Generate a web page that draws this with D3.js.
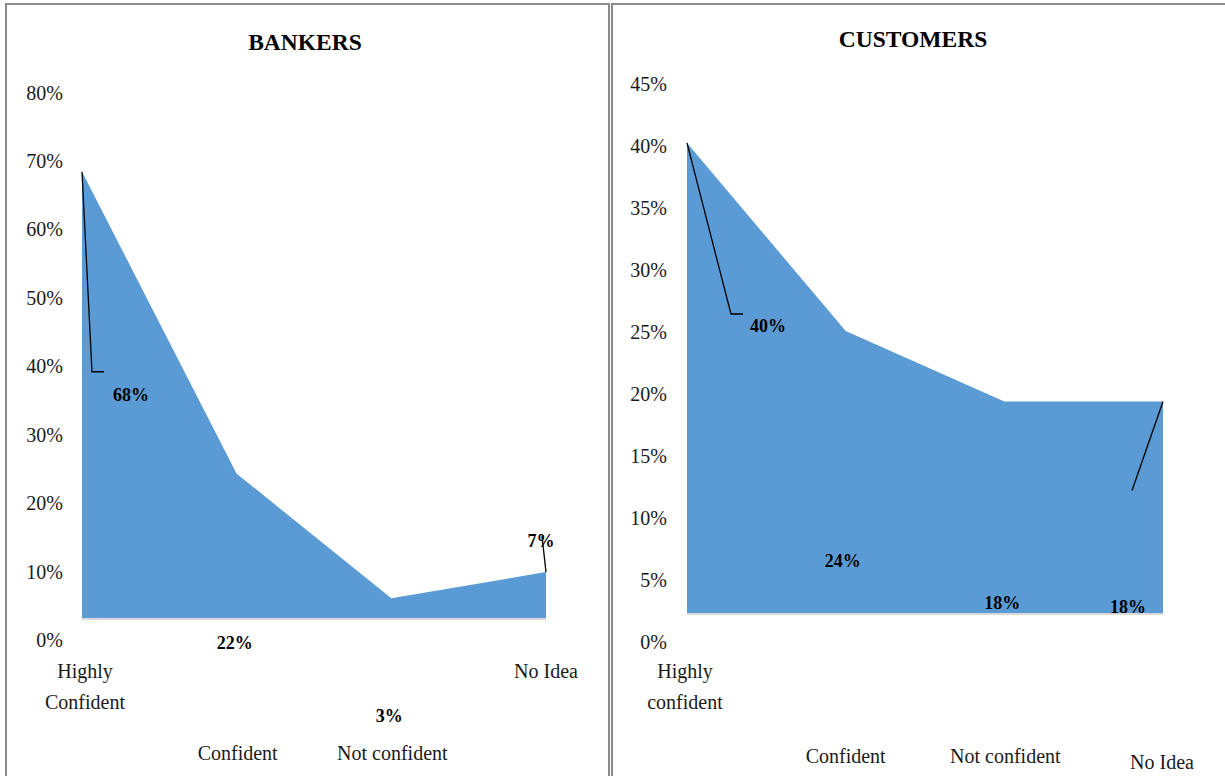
<!DOCTYPE html>
<html>
<head>
<meta charset="utf-8">
<script src="https://cdn.jsdelivr.net/npm/d3@7/dist/d3.min.js"></script>
<style>
  html, body { margin: 0; padding: 0; background: #fff; }
  svg { display: block; font-family: "Liberation Serif", "DejaVu Serif", serif; }
</style>
</head>
<body>
<svg id="chart" width="1225" height="776"></svg>
<script>
// Survey results: confidence level, bankers vs customers (share of respondents, %)
const bankerCategories = ["Highly Confident", "Confident", "Not confident", "No Idea"];
const bankerValues = [68, 22, 3, 7];
const bankerTicks = [0, 10, 20, 30, 40, 50, 60, 70, 80];
const bankerLabelLines = [["Highly", "Confident"], ["Confident"], ["Not confident"], ["No Idea"]];

const customerCategories = ["Highly confident", "Confident", "Not confident", "No Idea"];
const customerValues = [40, 24, 18, 18];
const customerTicks = [0, 5, 10, 15, 20, 25, 30, 35, 40, 45];
const customerLabelLines = [["Highly", "confident"], ["Confident"], ["Not confident"], ["No Idea"]];

const svg = d3.select("#chart");
const FILL = "#5B9BD5";

// Panel frames
svg.append("rect").attr("x", 6).attr("y", 4).attr("width", 603).attr("height", 800)
  .attr("fill", "none").attr("stroke", "#8a8a8a").attr("stroke-width", 2);
svg.append("rect").attr("x", 612).attr("y", 4).attr("width", 640).attr("height", 800)
  .attr("fill", "none").attr("stroke", "#8a8a8a").attr("stroke-width", 2);

function drawPanel(cfg) {
  const g = svg.append("g");
  const x = d3.scalePoint().domain(cfg.categories).range(cfg.xRange);
  const y = d3.scaleLinear().domain(cfg.yDomain).range(cfg.yRange);
  const yText = d3.scaleLinear().domain(cfg.yDomain).range(cfg.tickRange);
  const data = cfg.categories.map((c, i) => ({ c, v: cfg.values[i], i }));

  // Title
  g.append("text").attr("x", cfg.titleX).attr("y", cfg.titleY)
    .attr("text-anchor", "middle").attr("font-weight", "bold")
    .attr("font-size", "23.5px").attr("fill", "#000").text(cfg.title);

  // Value axis labels
  const ax = g.append("g").attr("transform", `translate(${cfg.axisX},0)`)
    .call(d3.axisLeft(yText).tickValues(cfg.ticks).tickFormat(d => d + "%").tickSize(0).tickPadding(0));
  ax.select(".domain").remove();
  ax.selectAll("text").attr("font-family", "Liberation Serif, serif")
    .attr("font-size", "20px").attr("fill", "#1a1a1a");

  // Area
  const area = d3.area().x(d => x(d.c)).y0(y(0)).y1(d => y(d.v));
  g.append("path").datum(data).attr("d", area).attr("fill", FILL);

  // Category axis line
  g.append("line")
    .attr("x1", x(cfg.categories[0])).attr("x2", x(cfg.categories[cfg.categories.length - 1]))
    .attr("y1", y(0) + 1).attr("y2", y(0) + 1)
    .attr("stroke", "#d9d9d9").attr("stroke-width", 2);

  // Category labels
  data.forEach(d => {
    const t = g.append("text").attr("text-anchor", "middle")
      .attr("font-size", "20px").attr("fill", "#1a1a1a");
    cfg.labelLines[d.i].forEach((line, k) => {
      t.append("tspan").attr("x", x(d.c) + cfg.catDx[d.i])
        .attr("y", cfg.catY[d.i] + k * 31).attr("dy", "0.35em").text(line);
    });
  });

  // Leader lines
  cfg.leaders.forEach(l => {
    const d = data[l.i];
    const px = x(d.c), py = y(d.v);
    const pts = [[px, py]].concat(l.pts.map(p => [px + p[0], py + p[1]]));
    g.append("path").attr("d", d3.line()(pts))
      .attr("fill", "none").attr("stroke", "#000").attr("stroke-width", 1.3);
  });

  // Data labels
  data.forEach(d => {
    const o = cfg.labelOffsets[d.i];
    g.append("text").attr("x", x(d.c) + o[0]).attr("y", y(d.v) + o[1])
      .attr("dy", "0.35em").attr("text-anchor", "middle")
      .attr("font-weight", "bold").attr("font-size", "18px").attr("fill", "#000")
      .text(d.v + "%");
  });
}

drawPanel({
  title: "BANKERS", titleX: 305, titleY: 50,
  categories: bankerCategories, values: bankerValues, ticks: bankerTicks,
  labelLines: bankerLabelLines,
  xRange: [82, 546], yDomain: [0, 80], yRange: [618, 93], tickRange: [640.5, 92.6],
  axisX: 63,
  catDx: [3, 1, 1, 0], catY: [671, 753, 753, 671],
  labelOffsets: [[49, 223], [-2, 169], [-2, 117], [-5, -31]],
  leaders: [{ i: 0, pts: [[10, 200], [22, 200]] }, { i: 3, pts: [[-4, -36]] }]
});

drawPanel({
  title: "CUSTOMERS", titleX: 913, titleY: 47,
  categories: customerCategories, values: customerValues, ticks: customerTicks,
  labelLines: customerLabelLines,
  xRange: [687, 1163], yDomain: [0, 45], yRange: [613, 84.25], tickRange: [642.5, 84.5],
  axisX: 667,
  catDx: [-2, 0, 1, -1], catY: [671, 756, 756, 762],
  labelOffsets: [[81, 183], [-3, 230], [-2, 201], [-35, 205]],
  leaders: [{ i: 0, pts: [[44, 171], [56, 171]] }, { i: 3, pts: [[-31, 89]] }]
});
</script>
</body>
</html>
